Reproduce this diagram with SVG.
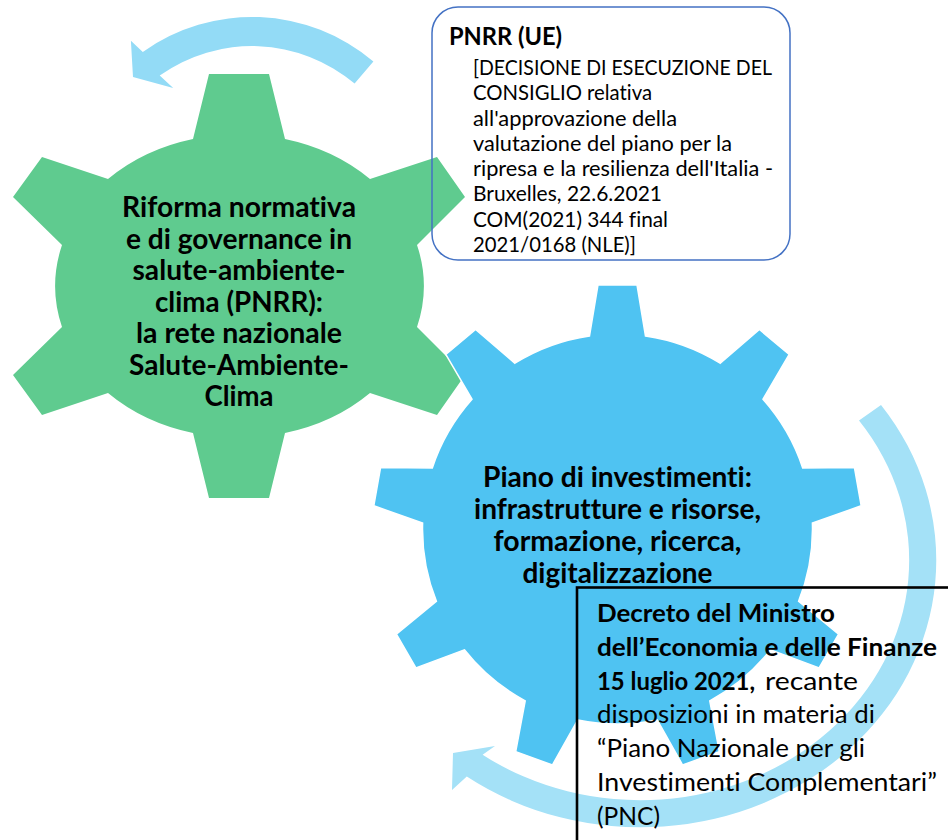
<svg xmlns="http://www.w3.org/2000/svg" width="948" height="840" viewBox="0 0 948 840">
<style>
text{font-variant-ligatures:none}
.b{font-family:Lato,"Liberation Sans",sans-serif;font-weight:bold;fill:#000}
.r{font-family:Lato,"Liberation Sans",sans-serif;font-weight:normal;fill:#000}
.gt{font-size:28px;text-anchor:middle}
.pn{font-size:21px}
.dc{font-size:25.5px}
</style>
<rect width="948" height="840" fill="#fff"/>
<g id="connectors">
<path id="arrow-top" fill="#93dbf6" d="M373.4,61.4 A188,188 0 0 0 142.8,51.9 L130.9,40.8 L133,77 L173.2,88.1 L159.7,75.6 A159,159 0 0 1 354.6,83.6 Z"/>
<path id="arrow-bottom" fill="#a4e1f7" d="M881,404.9 A296,267 0 0 1 466.8,776.6 L452,790 L453,753 L495,746 L482.6,754.7 A269,240 0 0 0 859,420.6 Z"/>
</g>
<g id="gear-green">
<path fill="#5fcb8f" d="M209,74 L269,74 L285,139 A183,152 0 0 1 370,179 L437,157 L465,197 L417,245 A183,152 0 0 1 417,327 L465,375 L437,415 L370,393 A183,152 0 0 1 285,433 L269,498 L209,498 L193,433 A183,152 0 0 1 108,393 L42,415 L13,375 L62,327 A183,152 0 0 1 62,245 L13,197 L42,157 L108,179 A183,152 0 0 1 193,139 Z"/>
<text class="b gt" lengthAdjust="spacingAndGlyphs" x="239" y="217" textLength="234">Riforma normativa</text>
<text class="b gt" lengthAdjust="spacingAndGlyphs" x="239" y="248.5" textLength="226">e di governance in</text>
<text class="b gt" lengthAdjust="spacingAndGlyphs" x="239" y="280" textLength="213">salute-ambiente-</text>
<text class="b gt" lengthAdjust="spacingAndGlyphs" x="239" y="311.5" textLength="168">clima (PNRR):</text>
<text class="b gt" lengthAdjust="spacingAndGlyphs" x="239" y="343" textLength="206">la rete nazionale</text>
<text class="b gt" lengthAdjust="spacingAndGlyphs" x="239" y="374.5" textLength="220">Salute-Ambiente-</text>
<text class="b gt" lengthAdjust="spacingAndGlyphs" x="239" y="406" textLength="69">Clima</text>
</g>
<g id="gear-blue">
<path fill="#4fc3f2" stroke="#fff" stroke-width="1.5" d="M589.5,336 L598,285 L637,285 L645.5,336 A195,195 0 0 1 720.1,363.2 L759.4,329.5 L789.2,354.5 L763,399.2 A195,195 0 0 1 802.7,467.9 L854.4,467.4 L861.2,505.8 L812.4,523.1 A195,195 0 0 1 798.6,601.2 L838.6,634.1 L819.1,667.9 L770.6,649.8 A195,195 0 0 1 709.8,700.8 L719.3,751.6 L682.6,765 L657.2,719.9 A195,195 0 0 1 577.8,719.9 L552.4,765 L515.7,751.6 L525.2,700.8 A195,195 0 0 1 464.4,649.8 L415.9,667.9 L396.4,634.1 L436.4,601.2 A195,195 0 0 1 422.6,523.1 L373.8,505.8 L380.6,467.4 L432.3,467.9 A195,195 0 0 1 472,399.2 L445.8,354.5 L475.6,329.5 L514.9,363.2 A195,195 0 0 1 589.5,336 Z"/>
<text class="b gt" lengthAdjust="spacingAndGlyphs" x="617.5" y="487" textLength="269">Piano di investimenti:</text>
<text class="b gt" lengthAdjust="spacingAndGlyphs" x="617.5" y="519" textLength="287">infrastrutture e risorse,</text>
<text class="b gt" lengthAdjust="spacingAndGlyphs" x="617.5" y="551" textLength="248">formazione, ricerca,</text>
<text class="b gt" lengthAdjust="spacingAndGlyphs" x="617.5" y="583" textLength="190">digitalizzazione</text>
</g>
<g id="box-pnrr">
<rect x="432" y="7" width="358" height="253" rx="26" fill="none" stroke="#4472c4" stroke-width="1.5"/>
<text class="b" x="449" y="45" font-size="24" textLength="113" lengthAdjust="spacingAndGlyphs">PNRR (UE)</text>
<text class="r pn" x="473" y="75" textLength="299" lengthAdjust="spacingAndGlyphs">[DECISIONE DI ESECUZIONE DEL</text>
<text class="r pn" x="473" y="100" textLength="179" lengthAdjust="spacingAndGlyphs">CONSIGLIO relativa</text>
<text class="r pn" x="473" y="125.5" textLength="204" lengthAdjust="spacingAndGlyphs">all'approvazione della</text>
<text class="r pn" x="473" y="151" textLength="259" lengthAdjust="spacingAndGlyphs">valutazione del piano per la</text>
<text class="r pn" x="473" y="176" textLength="300" lengthAdjust="spacingAndGlyphs">ripresa e la resilienza dell'Italia -</text>
<text class="r pn" x="473" y="201" textLength="189" lengthAdjust="spacingAndGlyphs">Bruxelles, 22.6.2021</text>
<text class="r pn" x="473" y="226.5" textLength="195" lengthAdjust="spacingAndGlyphs">COM(2021) 344 final</text>
<text class="r pn" x="473" y="252" textLength="163" lengthAdjust="spacingAndGlyphs">2021/0168 (NLE)]</text>
</g>
<g id="box-decreto">
<rect x="577" y="587.5" width="400" height="300" fill="none" stroke="#000" stroke-width="2.6"/>
<text class="b dc" x="597" y="622" textLength="238" lengthAdjust="spacingAndGlyphs">Decreto del Ministro</text>
<text class="b dc" x="597" y="655.5" textLength="340" lengthAdjust="spacingAndGlyphs">dell’Economia e delle Finanze</text>
<text class="b dc" x="597" y="689.5" textLength="158" lengthAdjust="spacingAndGlyphs">15 luglio 2021,</text>
<text class="r dc" x="765" y="689.5" textLength="93" lengthAdjust="spacingAndGlyphs">recante</text>
<text class="r dc" x="597" y="723" textLength="278" lengthAdjust="spacingAndGlyphs">disposizioni in materia di</text>
<text class="r dc" x="597" y="757" textLength="268" lengthAdjust="spacingAndGlyphs">“Piano Nazionale per gli</text>
<text class="r dc" x="597" y="791" textLength="340" lengthAdjust="spacingAndGlyphs">Investimenti Complementari”</text>
<text class="r dc" x="597" y="825" textLength="63" lengthAdjust="spacingAndGlyphs">(PNC)</text>
</g>
</svg>
